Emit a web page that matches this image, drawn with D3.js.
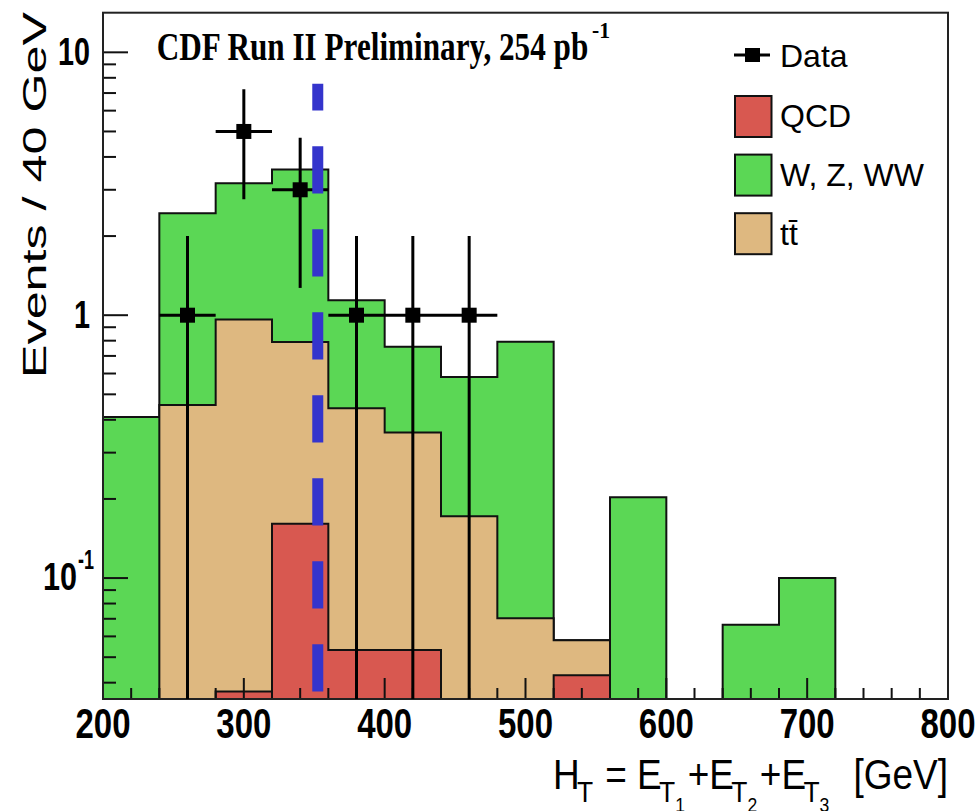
<!DOCTYPE html>
<html><head><meta charset="utf-8">
<script src="https://cdn.jsdelivr.net/npm/d3@7"></script>
<style>body{margin:0;background:#fff}svg{display:block}</style>
</head><body><svg id="c" width="979" height="811"></svg>
<script>
// ---------- data ----------
const binLow = [200,240,280,320,360,400,440,480,520,560,600,640,680,720,760];
const binWidth = 40;
const qcd   = [0,0,0.037,0.161,0.0532,0.0532,0,0,0.0427,0,0,0,0,0,0];
const ttbar = [0,0.455,0.926,0.629,0.389,0.305,0.172,0.0703,0.0153,0,0,0,0,0,0];
const wzww  = [0.41,1.985,2.217,2.79,0.698,0.40,0.41,0.722,0,0.203,0,0.0665,0.1,0,0];
const dataX   = [260,300,340,380,420,460];
const dataY   = [1,5,3,1,1,1];
const dataErr = [1,2.24,1.73,1,1,1];
const cutX = 352.5;
const cutRange = [0.037, 7.6];
const xTickLabels = ["200","300","400","500","600","700","800"];
const yMajor = [10,1,0.1];
const yLabelMain = ["10","1","10"];
const yLabelSup  = ["","","-1"];
const seriesKeys   = ["qcd","ttbar","wzww"];
const colors = {qcd:"#d85850", ttbar:"#deb880", wzww:"#5bd755"};

// ---------- layout ----------
const svg = d3.select("#c");
const L = 103, R = 948, T = 12.7, B = 699;
const x = d3.scaleLinear().domain([200,800]).range([L,R]);
const y = d3.scaleLog().domain([0.03467,14.15]).range([B,T]);
const yPos = v => v > 0 ? Math.min(B, y(v)) : B;

svg.append("defs").append("clipPath").attr("id","clip")
  .append("rect").attr("x",L).attr("y",T).attr("width",R-L).attr("height",B-T);

// stack
const rows = binLow.map((b,i)=>({low:b, qcd:qcd[i], ttbar:ttbar[i], wzww:wzww[i]}));
const stacked = d3.stack().keys(seriesKeys)(rows);

const area = d3.area()
  .x(d=>x(d.x)).y0(B).y1(d=>yPos(d.v))
  .curve(d3.curveStepAfter);

const plot = svg.append("g").attr("clip-path","url(#clip)");
[...stacked].reverse().forEach(s=>{
  const pts = s.map((d,i)=>({x:binLow[i], v:d[1]}));
  pts.push({x:binLow[binLow.length-1]+binWidth, v:s[s.length-1][1]});
  plot.append("path").attr("d",area(pts))
    .attr("fill",colors[s.key]).attr("stroke","#111").attr("stroke-width",2)
    .attr("stroke-linejoin","miter");
});

// axes ticks
const ax = svg.append("g").attr("stroke","#111").attr("stroke-width",2);
x.ticks(30).forEach(t=>{
  const major = t % 100 === 0;
  ax.append("line").attr("x1",x(t)).attr("x2",x(t)).attr("y1",B).attr("y2",B-(major?21:11));
});
y.ticks().forEach(t=>{
  if (t < y.domain()[0] || t > y.domain()[1]) return;
  const major = Math.abs(Math.log10(t) - Math.round(Math.log10(t))) < 1e-9;
  ax.append("line").attr("x1",L).attr("x2",L+(major?25:13)).attr("y1",y(t)).attr("y2",y(t));
});

// frame
svg.append("rect").attr("x",L).attr("y",T).attr("width",R-L).attr("height",B-T)
  .attr("fill","none").attr("stroke","#222").attr("stroke-width",2);

// data points
const dg = svg.append("g").attr("clip-path","url(#clip)").attr("stroke","#000").attr("stroke-width",3);
dataX.forEach((cx,i)=>{
  const v = dataY[i], e = dataErr[i];
  dg.append("line").attr("x1",x(cx)).attr("x2",x(cx)).attr("y1",yPos(v+e)).attr("y2",yPos(v-e));
  dg.append("line").attr("x1",x(cx-binWidth/2)).attr("x2",x(cx+binWidth/2)).attr("y1",y(v)).attr("y2",y(v));
});
svg.append("g").selectAll("rect").data(dataX).join("rect")
  .attr("x",d=>x(d)-7.5).attr("y",(d,i)=>y(dataY[i])-7.5).attr("width",15).attr("height",15).attr("fill","#000");

// cut line (dashed, drawn from bottom upwards)
svg.append("line").attr("x1",x(cutX)).attr("x2",x(cutX))
  .attr("y1",y(cutRange[0])).attr("y2",y(cutRange[1]))
  .attr("stroke","#3434cc").attr("stroke-width",11).attr("stroke-dasharray","47.3 35.7");

// x tick labels
const sans = "'Liberation Sans', Arial, Helvetica, sans-serif";
xTickLabels.forEach(s=>{
  svg.append("text").attr("x",x(+s)).attr("y",738).attr("text-anchor","middle")
    .attr("font-family",sans).attr("font-weight","bold").attr("font-size",42)
    .attr("textLength",55).attr("lengthAdjust","spacingAndGlyphs").text(s);
});
// y tick labels
yMajor.forEach((v,i)=>{
  const yy = y(v);
  if (yLabelSup[i]) {
    svg.append("text").attr("x",43).attr("y",yy+12).attr("font-family",sans).attr("font-weight","bold")
      .attr("font-size",39).attr("textLength",34).attr("lengthAdjust","spacingAndGlyphs").text(yLabelMain[i]);
    svg.append("text").attr("x",78).attr("y",yy-9).attr("font-family",sans).attr("font-weight","bold")
      .attr("font-size",27).attr("textLength",16).attr("lengthAdjust","spacingAndGlyphs").text(yLabelSup[i]);
  } else {
    const w = yLabelMain[i].length*16;
    svg.append("text").attr("x",90).attr("y",yy+13).attr("text-anchor","end").attr("font-family",sans)
      .attr("font-weight","bold").attr("font-size",39).attr("textLength",w).attr("lengthAdjust","spacingAndGlyphs")
      .text(yLabelMain[i]);
  }
});

// y axis title
svg.append("text").attr("transform","translate(46,378) rotate(-90)")
  .attr("font-family",sans).attr("font-size",33).attr("textLength",366)
  .attr("lengthAdjust","spacingAndGlyphs").text("Events / 40 GeV");

// x axis title, built piece by piece then fitted to width
const xt = svg.append("g");
const pieces = [
  ["H",42,0,0],["T",30,13,-3],[" = E",42,0,2],["T",30,13,-3],["1",20,23,0],
  ["+E",42,0,3],["T",30,13,-3],["2",20,23,0],["+E",42,0,3],["T",30,13,-3],["3",20,23,0],["  [GeV]",42,0,4]
];
let cur = 0;
pieces.forEach(p=>{
  cur += p[3];
  const t = xt.append("text").attr("x",cur).attr("y",p[2]).attr("font-family",sans)
    .attr("font-size",p[1]).style("white-space","pre").text(p[0]);
  cur += t.node().getComputedTextLength();
});
const sx = 395/cur;
xt.attr("transform",`translate(553,789) scale(${sx},1)`);

// title
const serif = "'Liberation Serif','Times New Roman',Times,serif";
svg.append("text").attr("x",156.7).attr("y",60).attr("font-family",serif).attr("font-weight","bold")
  .attr("font-size",39).attr("textLength",431.6).attr("lengthAdjust","spacingAndGlyphs")
  .text("CDF Run II Preliminary, 254 pb");
svg.append("text").attr("x",592).attr("y",38.3).attr("font-family",serif).attr("font-weight","bold")
  .attr("font-size",24).attr("textLength",18).attr("lengthAdjust","spacingAndGlyphs").text("-1");

// legend
const lg = svg.append("g");
lg.append("line").attr("x1",734).attr("x2",770).attr("y1",55).attr("y2",55).attr("stroke","#000").attr("stroke-width",3);
lg.append("rect").attr("x",745).attr("y",48).attr("width",15).attr("height",14).attr("fill","#000");
lg.append("text").attr("x",780).attr("y",66.7).attr("font-family",sans).attr("font-size",32).text("Data");
const legKeys = ["qcd","wzww","ttbar"];
const legLabels = ["QCD","W, Z, WW","tt\u0304"];
legKeys.forEach((k,i)=>{
  const top = 96 + i*58.6;
  lg.append("rect").attr("x",735).attr("y",top).attr("width",36.5).attr("height",41)
    .attr("fill",colors[k]).attr("stroke","#111").attr("stroke-width",2);
  lg.append("text").attr("x",780).attr("y",top+31.3).attr("font-family",sans).attr("font-size",32).text(legLabels[i]);
});
</script></body></html>
